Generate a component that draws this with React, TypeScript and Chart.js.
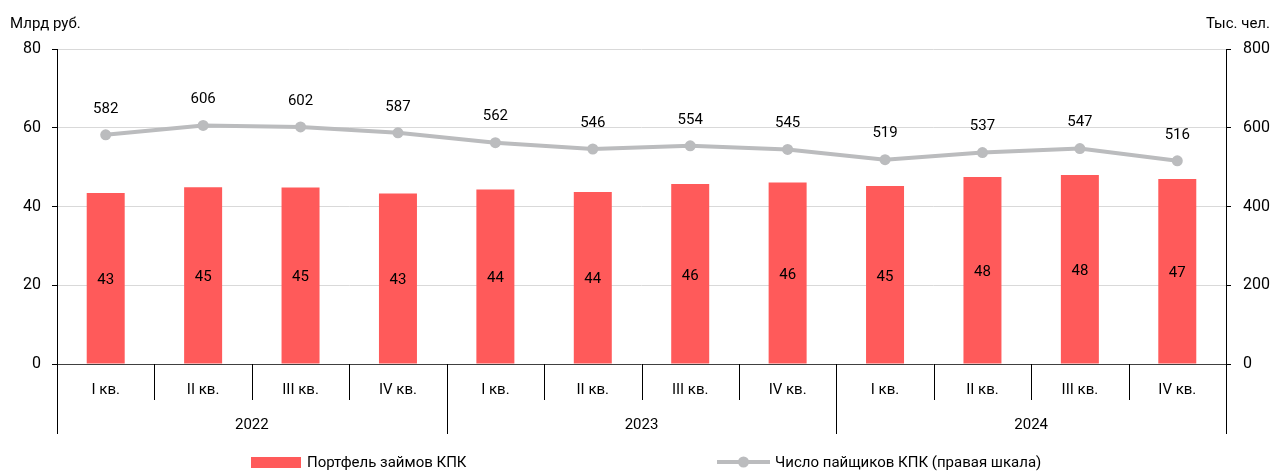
import React, { useEffect, useRef } from 'react';
import { Chart, registerables } from 'chart.js';
Chart.register(...registerables);

const quarters = ['I кв.', 'II кв.', 'III кв.', 'IV кв.', 'I кв.', 'II кв.', 'III кв.', 'IV кв.', 'I кв.', 'II кв.', 'III кв.', 'IV кв.'];
const years = ['2022', '2023', '2024'];
const portfolio = [43.4, 44.9, 44.8, 43.3, 44.3, 43.7, 45.7, 46.1, 45.2, 47.5, 48.0, 47.0];
const members = [582, 606, 602, 587, 562, 546, 554, 545, 519, 537, 547, 516];
const leftTicks = [0, 20, 40, 60, 80];
const rightTicks = [0, 200, 400, 600, 800];
const seriesNames = ['Портфель займов КПК', 'Число пайщиков КПК (правая шкала)'];
const axisTitles = ['Млрд руб.', 'Тыс. чел.'];

const FONT = '15px Roboto, "Noto Sans", sans-serif';
const RED = '#FF5A5A';
const GRAY = '#BBBCBE';

const overlay = {
  id: 'overlay',
  afterDraw(chart: any) {
    const { ctx, chartArea } = chart;
    const { left, right, top, bottom } = chartArea;
    ctx.save();
    ctx.font = FONT;
    ctx.fillStyle = '#000';
    ctx.textBaseline = 'middle';

    // axis titles
    ctx.textAlign = 'left';
    ctx.fillText(axisTitles[0], 10, 24);
    ctx.textAlign = 'right';
    ctx.fillText(axisTitles[1], 1270, 24);

    // axes lines
    ctx.strokeStyle = '#000';
    ctx.lineWidth = 1;
    const axisBottom = bottom + 70;
    ctx.beginPath();
    ctx.moveTo(Math.round(left) + 0.5, top);
    ctx.lineTo(Math.round(left) + 0.5, axisBottom);
    ctx.moveTo(Math.round(right) + 0.5, top);
    ctx.lineTo(Math.round(right) + 0.5, axisBottom);
    ctx.stroke();

    // category separators
    const n = quarters.length;
    const w = (right - left) / n;
    ctx.beginPath();
    for (let i = 1; i < n; i++) {
      const x = Math.round(left + i * w) + 0.5;
      ctx.moveTo(x, bottom);
      ctx.lineTo(x, i % 4 === 0 ? axisBottom : bottom + 36);
    }
    ctx.stroke();

    // quarter labels
    ctx.textAlign = 'center';
    for (let i = 0; i < n; i++) {
      ctx.fillText(quarters[i], left + (i + 0.5) * w, bottom + 26);
    }
    // year labels
    for (let j = 0; j < years.length; j++) {
      ctx.fillText(years[j], left + (j * 4 + 2) * w, bottom + 61);
    }

    // data labels
    const barMeta = chart.getDatasetMeta(0);
    barMeta.data.forEach((bar: any, i: number) => {
      ctx.fillText(String(Math.round(portfolio[i])), bar.x, (bar.y + bar.base) / 2 + 2);
    });
    const lineMeta = chart.getDatasetMeta(1);
    lineMeta.data.forEach((pt: any, i: number) => {
      ctx.fillText(String(members[i]), pt.x, pt.y - 26);
    });

    // legend
    const ly = 462;
    ctx.fillStyle = RED;
    ctx.fillRect(251, 457, 50, 11);
    ctx.fillStyle = '#000';
    ctx.textAlign = 'left';
    ctx.fillText(seriesNames[0], 307, ly + 1);
    ctx.strokeStyle = GRAY;
    ctx.lineWidth = 4;
    ctx.beginPath();
    ctx.moveTo(717, ly);
    ctx.lineTo(770, ly);
    ctx.stroke();
    ctx.fillStyle = GRAY;
    ctx.beginPath();
    ctx.arc(743.5, ly, 5.5, 0, Math.PI * 2);
    ctx.fill();
    ctx.fillStyle = '#000';
    ctx.fillText(seriesNames[1], 775, ly + 1);

    ctx.restore();
  },
};

export default function App() {
  const ref = useRef<HTMLCanvasElement>(null);
  useEffect(() => {
    if (!ref.current) return;
    const chart = new Chart(ref.current, {
      type: 'bar',
      data: {
        labels: quarters.map((q, i) => q + '#' + i),
        datasets: [
          {
            type: 'bar',
            label: seriesNames[0],
            data: portfolio,
            backgroundColor: RED,
            yAxisID: 'y',
            barPercentage: 0.39,
            categoryPercentage: 1,
            order: 2,
          },
          {
            type: 'line',
            label: seriesNames[1],
            data: members,
            borderColor: GRAY,
            backgroundColor: GRAY,
            borderWidth: 4,
            pointRadius: 5.5,
            pointBackgroundColor: GRAY,
            pointBorderWidth: 0,
            tension: 0,
            yAxisID: 'y1',
            order: 1,
          } as any,
        ],
      },
      options: {
        animation: false,
        responsive: false,
        layout: { padding: { top: 49, bottom: 0, left: 0, right: 0 } },
        plugins: { legend: { display: false }, tooltip: { enabled: false } },
        scales: {
          x: {
            ticks: { display: false },
            grid: { display: false },
            border: { display: false },
            afterFit: (s: any) => { s.height = 108; },
          },
          y: {
            position: 'left',
            min: 0,
            max: 80,
            afterBuildTicks: (s: any) => { s.ticks = leftTicks.map((v) => ({ value: v })); },
            ticks: { color: '#000', font: { family: 'Roboto', size: 16 }, padding: 11 },
            grid: {
              color: (c: any) => (c.tick && c.tick.value === 0 ? '#404040' : '#D9D9D9'),
              tickColor: '#000',
              tickLength: 5,
              lineWidth: 1,
            },
            border: { display: false },
            afterFit: (s: any) => { s.width = 57; },
          },
          y1: {
            position: 'right',
            min: 0,
            max: 800,
            afterBuildTicks: (s: any) => { s.ticks = rightTicks.map((v) => ({ value: v })); },
            ticks: { color: '#000', font: { family: 'Roboto', size: 16 }, padding: 12 },
            grid: { drawOnChartArea: false, tickColor: '#000', tickLength: 5 },
            border: { display: false },
            afterFit: (s: any) => { s.width = 53; },
          },
        },
      },
      plugins: [overlay],
    });
    return () => chart.destroy();
  }, []);
  return (
    <div style={{ position: 'absolute', left: 0, top: 0, width: 1279, height: 472 }}>
      <canvas ref={ref} width={1279} height={472} />
    </div>
  );
}
